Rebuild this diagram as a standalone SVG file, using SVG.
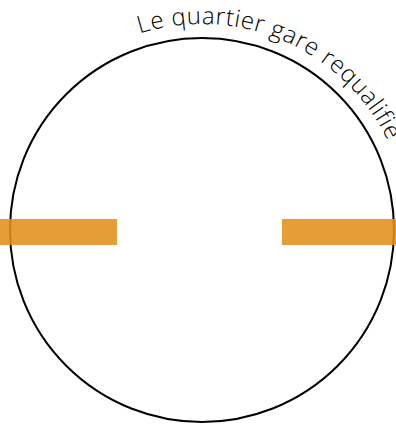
<svg xmlns="http://www.w3.org/2000/svg" xmlns:xlink="http://www.w3.org/1999/xlink" width="396" height="424" viewBox="0 0 396 424">
<defs>
<style>
.ring{fill:none;stroke:#000;stroke-width:2}
.bar{fill:#E28F1C;fill-opacity:0.88}
.lbl{font-family:"Open Sans","Liberation Sans",sans-serif;font-weight:300;font-size:24px;letter-spacing:0.6px;fill:#000}
</style>
<path id="arc" d="M -4 230 A 206 206 0 1 1 408 230 A 206 206 0 1 1 -4 230"/>
</defs>
<rect width="396" height="424" fill="#fff"/>
<g id="circle">
<circle class="ring" cx="202" cy="230" r="192"/>
<text class="lbl"><textPath xlink:href="#arc" startOffset="260">Le quartier gare requalifié</textPath></text>
</g>
<g id="bar-left"><rect class="bar" x="0" y="219" width="117" height="26"/></g>
<g id="bar-right"><rect class="bar" x="282" y="219" width="114" height="26"/></g>
</svg>
